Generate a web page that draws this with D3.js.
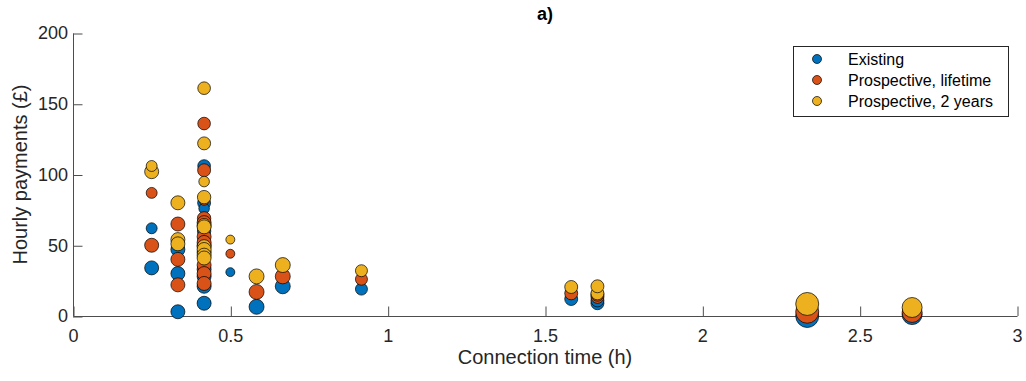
<!DOCTYPE html>
<html>
<head>
<meta charset="utf-8">
<script src="https://cdn.jsdelivr.net/npm/d3@7"></script>
<style>
  body { margin: 0; background: #fff; }
  svg { font-family: "Liberation Sans", Arial, sans-serif; }
  .axis path, .axis line { stroke: #4d4d4d; }
  .axis text { fill: #262626; font-size: 18px; }
</style>
</head>
<body>
<div id="chart"></div>
<script>
// connection time (h) of each case
var connTime = [0.25, 0.25,
                1/3, 1/3, 1/3,
                5/12, 5/12, 5/12, 5/12, 5/12, 5/12, 5/12, 5/12, 5/12, 5/12,
                0.5, 7/12, 2/3, 11/12, 19/12, 5/3, 5/3, 7/3, 8/3];
// hourly payments (GBP)
var existing   = [34, 62,  3, 30, 47,  106, 80, 76, 60, 50, 45, 33, 28, 21, 9,  31, 6.5, 21, 19, 12, 9, 11, 0, 1];
var lifetime   = [50, 87,  22, 40, 65,  136, 103, 82, 69, 66, 56, 52, 36, 30, 23,  44, 17, 28, 26, 16, 13.5, 15, 3, 2.5];
var twoYears   = [102, 106,  54, 51, 80,  161, 122, 95, 84, 64, 63, 49, 47, 43, 41,  54, 28, 36, 32, 20.5, 16, 21, 8.5, 6];
// marker weight (scaled to marker area)
var weight     = [49, 30,  49, 49, 49,  40, 42, 28, 45, 49, 49, 49, 49, 49, 49,  20, 56, 56, 36, 42, 42, 42, 132, 100];

var seriesNames  = ["Existing", "Prospective, lifetime", "Prospective, 2 years"];
var seriesColors = ["#0072BD", "#D95319", "#EDB120"];
var seriesValues = [existing, lifetime, twoYears];

var xTicks = [0, 0.5, 1, 1.5, 2, 2.5, 3];
var yTicks = [0, 50, 100, 150, 200];

var width = 1026, height = 381;
var margin = {top: 33, right: 9, bottom: 65, left: 73};
var w = width - margin.left - margin.right;
var h = height - margin.top - margin.bottom;

var x = d3.scaleLinear().domain([0, 3]).range([0, w]);
var y = d3.scaleLinear().domain([0, 200]).range([h, 0]);
var r = d3.scaleSqrt().domain([0, 150]).range([0, Math.sqrt(150)]);

var svg = d3.select("#chart").append("svg")
    .attr("width", width).attr("height", height);
var g = svg.append("g").attr("transform", "translate(" + margin.left + "," + margin.top + ")");

// axes, ticks pointing inward
var xAxis = d3.axisBottom(x).tickValues(xTicks).tickSize(-9.5).tickPadding(13).tickFormat(d3.format("~g"));
var yAxis = d3.axisLeft(y).tickValues(yTicks).tickSize(-9.5).tickPadding(5);

var gx = g.append("g").attr("class", "axis").attr("transform", "translate(0," + h + ")").call(xAxis);
gx.select(".domain").attr("d", "M0.5,0.5H" + (w + 0.5));
gx.selectAll(".tick line").attr("transform", "translate(0.5,0)");
var gy = g.append("g").attr("class", "axis").call(yAxis);
gy.select(".domain").attr("d", "M0.5,0.5V" + (h + 0.5));
gy.selectAll(".tick line").attr("transform", "translate(0,0.5)");

// scatter points: one group per series
seriesValues.forEach(function(vals, s) {
  g.append("g").selectAll("circle")
    .data(connTime.map(function(t, i) { return {t: t, v: vals[i], wt: weight[i]}; }))
    .enter().append("circle")
    .attr("cx", function(d) { return x(d.t); })
    .attr("cy", function(d) { return y(d.v); })
    .attr("r", function(d) { return r(d.wt); })
    .attr("fill", seriesColors[s])
    .attr("stroke", "#000")
    .attr("stroke-width", 0.7);
});

// labels
svg.append("text")
  .attr("x", margin.left + w / 2).attr("y", 20)
  .attr("text-anchor", "middle").attr("font-weight", "bold")
  .attr("font-size", 18).attr("fill", "#000").text("a)");

svg.append("text")
  .attr("x", margin.left + w / 2).attr("y", 364)
  .attr("text-anchor", "middle").attr("font-size", 20).attr("fill", "#262626")
  .text("Connection time (h)");

svg.append("text")
  .attr("transform", "translate(27," + (margin.top + h / 2) + ") rotate(-90)")
  .attr("text-anchor", "middle").attr("font-size", 20).attr("fill", "#262626")
  .text("Hourly payments (\u00a3)");

// legend
var legend = svg.append("g").attr("transform", "translate(793,46)");
legend.append("rect").attr("x", 0.5).attr("y", 0.5).attr("width", 215).attr("height", 70)
  .attr("fill", "#fff").attr("stroke", "#262626").attr("stroke-width", 1);
seriesNames.forEach(function(name, i) {
  var row = legend.append("g").attr("transform", "translate(0," + (13 + i * 21) + ")");
  row.append("circle").attr("cx", 24).attr("cy", 0).attr("r", 4.5)
    .attr("fill", seriesColors[i]).attr("stroke", "#000").attr("stroke-width", 0.7);
  row.append("text").attr("x", 55).attr("y", 6).attr("font-size", 16).attr("fill", "#000").text(name);
});
</script>
</body>
</html>
